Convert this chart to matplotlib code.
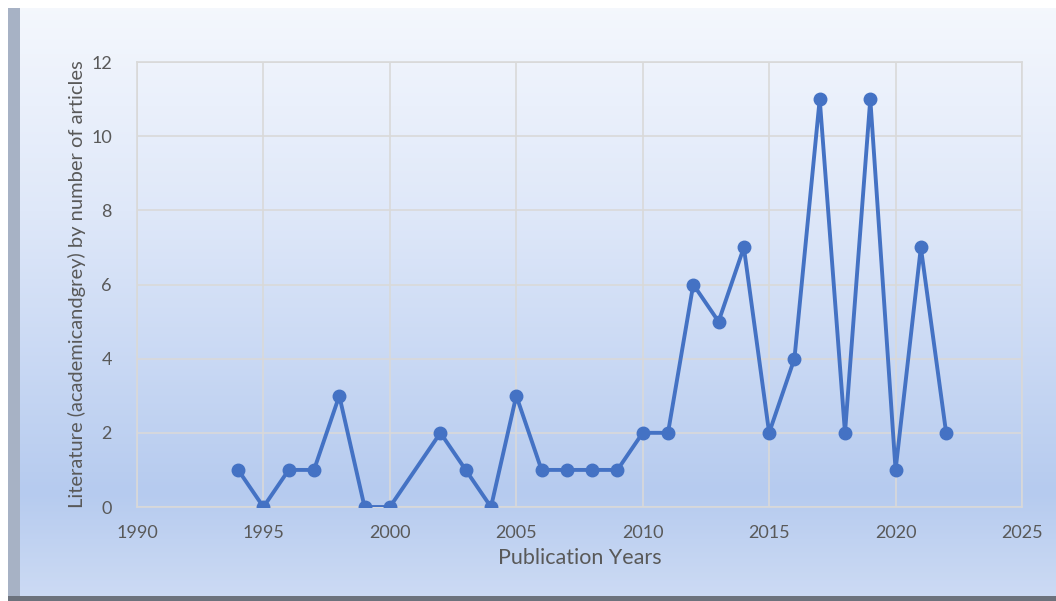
import numpy as np
import matplotlib.pyplot as plt
from matplotlib.colors import LinearSegmentedColormap
from matplotlib.patches import Rectangle

# Data
years = [1994, 1995, 1996, 1997, 1998, 1999, 2000, 2002, 2003, 2004, 2005,
         2006, 2007, 2008, 2009, 2010, 2011, 2012, 2013, 2014, 2015, 2016,
         2017, 2018, 2019, 2020, 2021, 2022]
articles = [1, 0, 1, 1, 3, 0, 0, 2, 1, 0, 3,
            1, 1, 1, 1, 2, 2, 6, 5, 7, 2, 4,
            11, 2, 11, 1, 7, 2]
x_ticks = [1990, 1995, 2000, 2005, 2010, 2015, 2020, 2025]
y_ticks = [0, 2, 4, 6, 8, 10, 12]

plt.rcParams['font.family'] = ['Lato', 'DejaVu Sans']

fig = plt.figure(figsize=(10.56, 6.01), dpi=100)
W, H = 1056, 601

# gradient background
bg = fig.add_axes([0, 0, 1, 1], zorder=-2)
bg.set_axis_off()
cmap = LinearSegmentedColormap.from_list(
    "bgrad", [(0.0, "#f5f8fd"), (0.35, "#dfe8f9"), (0.82, "#b6cbef"), (1.0, "#cddbf4")])
grad = np.linspace(0, 1, 256).reshape(-1, 1)
bg.imshow(grad, aspect="auto", cmap=cmap, extent=[0, 1, 0, 1], origin="upper")
bg.set_xlim(0, 1)
bg.set_ylim(0, 1)
# white top and left margins, gray frame strips
bg.add_patch(Rectangle((0, 1 - 8 / H), 1, 8 / H, color="white", lw=0))
bg.add_patch(Rectangle((0, 0), 8 / W, 1, color="white", lw=0))
bg.add_patch(Rectangle((8 / W, 0), 12 / W, 1 - 8 / H, color="#a7b2c5", lw=0))
bg.add_patch(Rectangle((8 / W, 0), 1, 5 / H, color="#6c727c", lw=0))

ax = fig.add_axes([137 / W, 1 - 507 / H, (1022 - 137) / W, (507 - 62) / H])
ax.patch.set_alpha(0)
ax.plot(years, articles, color="#4472c4", lw=2.8, marker="o", markersize=9,
        zorder=3, solid_joinstyle="round")

ax.set_xlim(1990, 2025)
ax.set_ylim(0, 12)
ax.set_xticks(x_ticks)
ax.set_yticks(y_ticks)
ax.grid(True, color="#d9d9d9", lw=1.2)
for s in ax.spines.values():
    s.set_color("#d9d9d9")
    s.set_linewidth(1.2)
ax.tick_params(length=0, labelsize=13, labelcolor="#595959")
ax.tick_params(axis="x", pad=13)
ax.tick_params(axis="y", pad=18)

ax.set_xlabel("Publication Years", fontsize=15.5, color="#595959", labelpad=5)
ax.set_ylabel("Literature (academicandgrey) by number of articles",
              fontsize=14.5, color="#595959", labelpad=4)

fig.savefig("out.png", dpi=100)
